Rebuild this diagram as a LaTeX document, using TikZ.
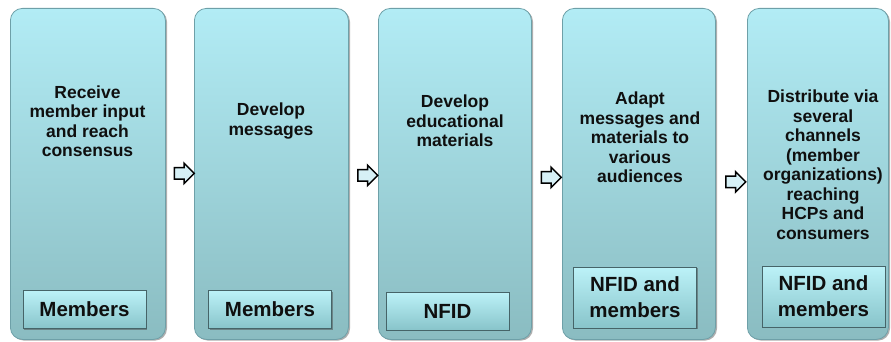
\documentclass[tikz,border=0pt]{standalone}
\usepackage{fontspec}
\setmainfont{Liberation Sans}
\usetikzlibrary{shapes.arrows,shadows,calc}
\definecolor{boxtop}{RGB}{178,236,245}
\definecolor{boxbot}{RGB}{138,188,193}
\definecolor{boxedge}{RGB}{110,160,168}
\definecolor{tagtop}{RGB}{188,242,248}
\definecolor{tagbot}{RGB}{136,196,202}
\definecolor{tagedge}{RGB}{70,100,104}
\definecolor{arrowfill}{RGB}{214,240,246}
\definecolor{ink}{RGB}{15,15,15}
\tikzset{
  stage/.style={rectangle, rounded corners=12pt, top color=boxtop, bottom color=boxbot,
    draw=boxedge, line width=0.8pt, anchor=north west, minimum height=331pt, inner sep=0pt,
    drop shadow={shadow xshift=1.6pt, shadow yshift=-1.2pt, fill=black!70, opacity=0.45}},
  stagetext/.style={align=center, text=ink, font=\bfseries\fontsize{17.5}{19.5}\selectfont, inner sep=0pt},
  tag/.style={rectangle, top color=tagtop, bottom color=tagbot, draw=tagedge, line width=0.7pt,
    minimum width=123pt, align=center, text=ink, font=\bfseries\fontsize{20.5}{26}\selectfont, inner sep=0pt,
    drop shadow={shadow xshift=1.2pt, shadow yshift=-1.2pt, fill=black!70, opacity=0.5}},
  flowarrow/.style={shape=single arrow, draw=black, line width=1.5pt, fill=arrowfill,
    single arrow head extend=4.5pt, minimum height=20pt, inner xsep=0pt, inner ysep=5pt}
}
\begin{document}
\begin{tikzpicture}[x=1pt,y=-1pt]
\useasboundingbox (0,0) rectangle (891,342);
% stage boxes
\node[stage, minimum width=155pt] (b1) at (10,8) {};
\node[stage, minimum width=154pt] (b2) at (194,8) {};
\node[stage, minimum width=153pt] (b3) at (378,8) {};
\node[stage, minimum width=153pt] (b4) at (562,8) {};
\node[stage, minimum width=141pt] (b5) at (747,8) {};
% texts
\node[stagetext] (t1) at (87.5,121) {Receive\\member input\\and reach\\consensus};
\node[stagetext] (t2) at (271,121) {Develop\\messages};
\node[stagetext] (t3) at (455,121) {Develop\\educational\\materials};
\node[stagetext] (t4) at (640,137.5) {Adapt\\messages and\\materials to\\various\\audiences};
\node[stagetext] (t5) at (823,164.5) {Distribute via\\several\\channels\\(member\\organizations)\\reaching\\HCPs and\\consumers};
% tags
\node[tag, minimum height=38pt] (l1) at (84.5,309.5) {Members};
\node[tag, minimum height=38pt] (l2) at (270,309.5) {Members};
\node[tag, minimum height=38pt] (l3) at (447.5,311) {NFID};
\node[tag, minimum height=61pt] (l4) at (635,297.5) {NFID and\\members};
\node[tag, minimum height=61pt] (l5) at (823.5,296.5) {NFID and\\members};
% arrows between stages
\node[flowarrow] (a1) at ($(b1.east)!0.5!(b2.west) + (1.5,-0.5)$) {};
\node[flowarrow] (a2) at ($(b2.east)!0.5!(b3.west) + (1.5,1.5)$) {};
\node[flowarrow] (a3) at ($(b3.east)!0.5!(b4.west) + (1.5,3.5)$) {};
\node[flowarrow] (a4) at ($(b4.east)!0.5!(b5.west) + (1.5,8)$) {};
\end{tikzpicture}
\end{document}
